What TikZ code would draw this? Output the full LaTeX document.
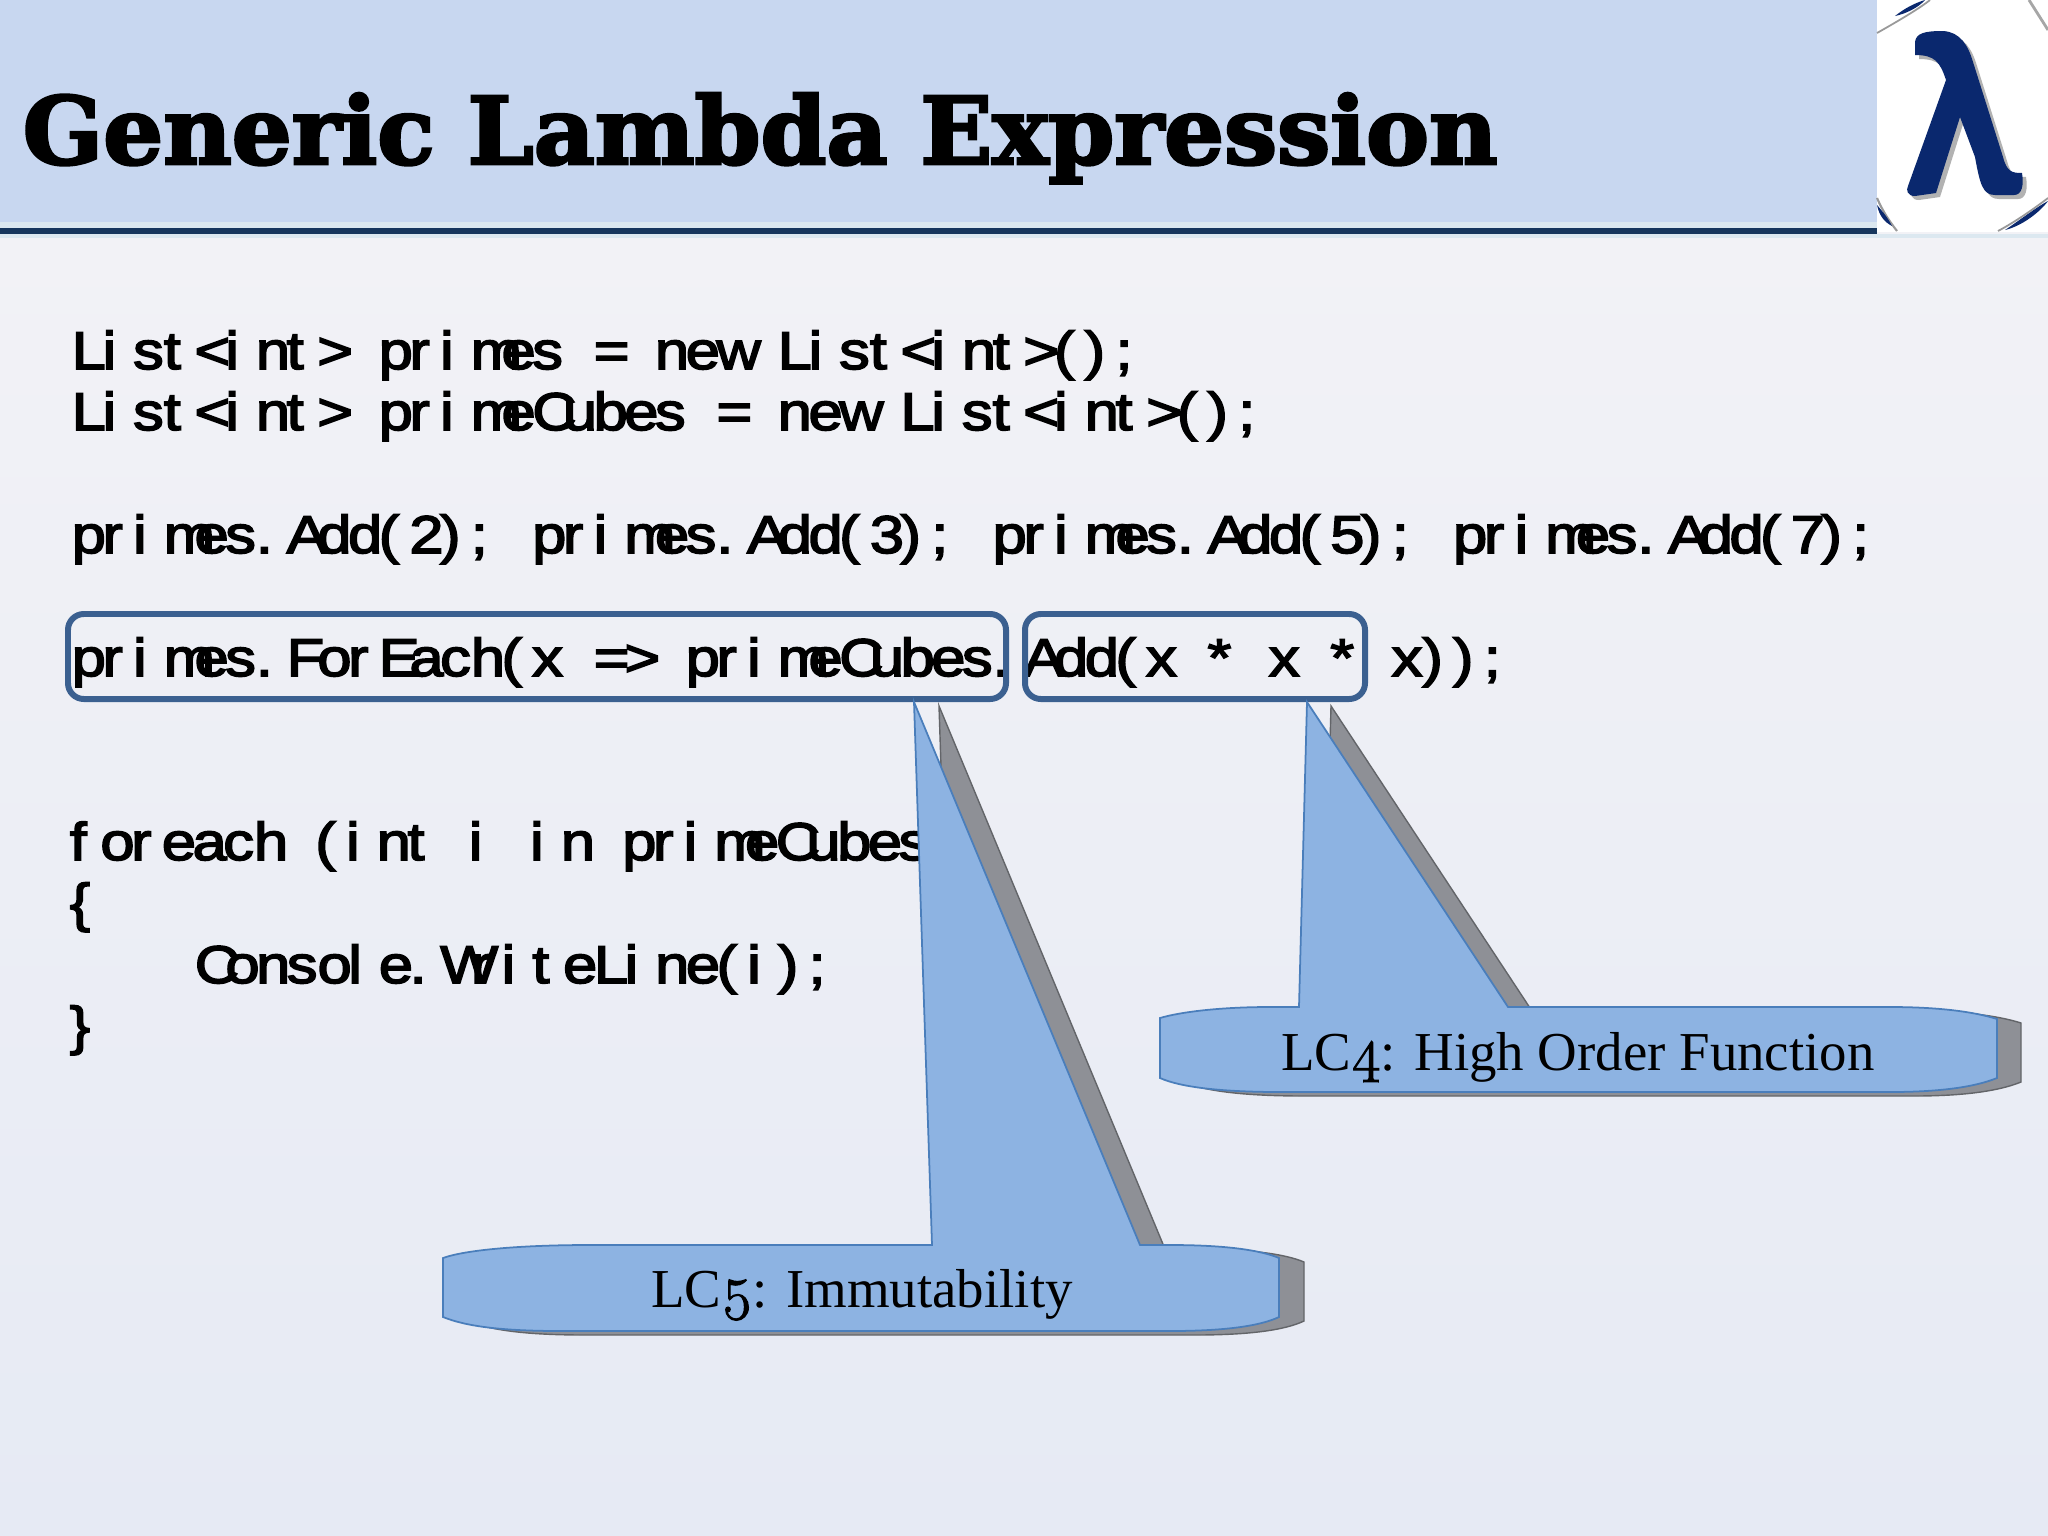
\documentclass[tikz,border=0pt]{standalone}
\usepackage{fontspec}
\usetikzlibrary{positioning}
\setmainfont{Liberation Serif}
\newfontfamily\codefont[FakeBold=3,FakeStretch=1.16]{Liberation Sans}
\newfontfamily\titlefont[FakeBold=3,FakeStretch=1.01]{DejaVu Serif Bold}
\newfontfamily\oldnums[Numbers=OldStyle,FakeBold=2,Scale=1.1]{Latin Modern Roman}
\definecolor{headerblue}{RGB}{200,215,240}
\definecolor{navyline}{RGB}{23,54,93}
\definecolor{lambdanavy}{RGB}{10,40,110}
\definecolor{boxblue}{RGB}{59,96,144}
\definecolor{calloutfill}{RGB}{141,179,226}
\definecolor{calloutedge}{RGB}{74,126,187}
\definecolor{calloutshadow}{RGB}{142,144,150}
\definecolor{pagetop}{RGB}{242,242,246}
\definecolor{pagebottom}{RGB}{230,234,244}
\definecolor{bandpale}{RGB}{220,232,240}
\newlength{\codepitch}
\setlength{\codepitch}{8.73pt}
\makeatletter
\newcommand{\pitched}[1]{\@tfor\pch:=#1\do{\makebox[\codepitch][l]{\pch}}}
\makeatother
\tikzset{
  codeline/.style={anchor=base west, inner sep=0pt, font=\codefont\fontsize{15.1}{15.1}\selectfont},
  codebox/.style={draw=boxblue, line width=1.7pt, rounded corners=4.5pt},
  callout/.style={fill=calloutfill, draw=calloutedge, line width=0.5pt},
  calloutback/.style={fill=calloutshadow, draw=calloutshadow!70!black, line width=0.4pt},
  calloutlabel/.style={inner sep=0pt, font=\fontsize{15.6}{15.6}\selectfont}
}
\begin{document}
\begin{tikzpicture}[x=0.01cm, y=-0.01cm]
    \useasboundingbox (0,0) rectangle (2048,1536);

    % Fondo
    \shade[top color=pagetop, bottom color=pagebottom] (0,232) rectangle (2048,1536);
    \fill[headerblue] (0,0) rectangle (1877,222);
    \fill[bandpale] (0,222) rectangle (1877,228);
    \fill[bandpale] (0,234) rectangle (2048,238);
    \fill[navyline] (0,228) rectangle (1877,234);

    % Logo
    \fill[white] (1877,0) rectangle (2048,232);
    \foreach \dx/\dy/\tone in {4/4/black!30, 0/0/lambdanavy} {
        \fill[\tone, shift={(\dx,\dy)}] (1915,42) .. controls (1916,33) and (1925,31) .. (1943,31)
            .. controls (1960,32) and (1968,45) .. (1973,62) -- (2003,157)
            .. controls (2007,172) and (2012,173) .. (2022,173)
            .. controls (2024,185) and (2022,195) .. (2014,195) -- (1995,195)
            .. controls (1983,195) and (1980,185) .. (1975,157) -- (1960,117) -- (1936,193)
            -- (1915,196) .. controls (1907,196) and (1906,190) .. (1908,186) -- (1946,80)
            .. controls (1940,62) and (1935,55) .. (1915,55) -- cycle;
    }
    \draw[black!40, line width=0.5pt] (1877,33) .. controls (1900,20) and (1920,8) .. (1930,0);
    \fill[lambdanavy] (1895,16) .. controls (1905,8) and (1915,3) .. (1925,0) .. controls (1918,8) and (1905,14) .. cycle;
    \draw[black!35, line width=0.8pt] (2029,0) -- (2048,30);
    \draw[black!40, line width=0.6pt] (1877,198) .. controls (1883,212) and (1890,222) .. (1897,231);
    \fill[lambdanavy] (1877,205) .. controls (1883,212) and (1888,218) .. (1892,226) .. controls (1884,222) and (1879,215) .. cycle;
    \fill[lambdanavy] (2005,230) .. controls (2020,220) and (2035,208) .. (2048,201) .. controls (2040,212) and (2022,226) .. cycle;
    \draw[black!40, line width=0.5pt] (1998,231) .. controls (2015,222) and (2035,208) .. (2048,198);

    % Titulo
    \node[anchor=base west, inner sep=0pt, font=\titlefont\fontsize{26.55}{26.55}\selectfont] (title) at (22,164) {Generic Lambda Expression};

    % Codigo
    \foreach \y/\x/\codetext/\name in {
        369/71/{List<int>~primes~=~new~List<int>();}/lineone,
        430/71/{List<int>~primeCubes~=~new~List<int>();}/linetwo,
        553/71/{primes.Add(2);~primes.Add(3);~primes.Add(5);~primes.Add(7);}/lineadd,
        676/71/{primes.ForEach(x~=>~primeCubes.Add(x~*~x~*~x));}/lineforeach,
        860/69/{foreach~(int~i~in~primeCubes}/lineloop,
        921/69/{\{}/lineopen,
        983/194/{Console.WriteLine(i);}/linewrite,
        1044/69/{\}}/lineclose} {
        \node[codeline] (\name) at (\x,\y) {\expandafter\pitched\expandafter{\codetext}};
    }

    % Recuadros
    \draw[codebox] (68,614) rectangle (1006,699);
    \draw[codebox] (1025,614) rectangle (1365,699);

    % LC5
    \foreach \dx/\dy/\sty in {25/4/calloutback, 0/0/callout} {
        \path[\sty, shift={(\dx,\dy)}] (443,1258) .. controls (465,1250) and (520,1245) .. (590,1245)
            -- (932,1245) -- (914,702) -- (1140,1245) -- (1170,1245)
            .. controls (1225,1245) and (1260,1250) .. (1279,1258) -- (1279,1317)
            .. controls (1260,1326) and (1225,1331) .. (1170,1331) -- (560,1331)
            .. controls (500,1331) and (465,1326) .. (443,1317) -- cycle;
    }
    \node[calloutlabel] (lcfive) at (862,1295) {LC{\oldnums 5}: Immutability};

    % LC4
    \foreach \dx/\dy/\sty in {24/4/calloutback, 0/0/callout} {
        \path[\sty, shift={(\dx,\dy)}] (1160,1018) .. controls (1180,1012) and (1220,1007) .. (1270,1007)
            -- (1299,1007) -- (1307,702) -- (1508,1007) -- (1890,1007)
            .. controls (1940,1007) and (1975,1012) .. (1997,1019) -- (1997,1078)
            .. controls (1975,1087) and (1940,1092) .. (1890,1092) -- (1280,1092)
            .. controls (1220,1092) and (1180,1087) .. (1160,1078) -- cycle;
    }
    \node[calloutlabel] (lcfour) at (1578,1057) {LC{\oldnums 4}: High Order Function};
\end{tikzpicture}
\end{document}
